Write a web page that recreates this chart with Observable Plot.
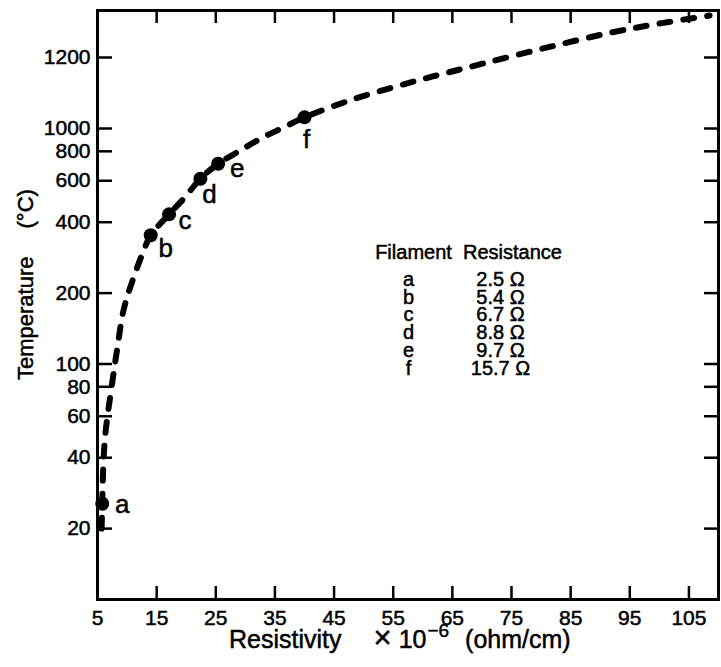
<!DOCTYPE html>
<html><head><meta charset="utf-8">
<script src="https://cdn.jsdelivr.net/npm/d3@7"></script>
<script src="https://cdn.jsdelivr.net/npm/@observablehq/plot@0.6"></script>
<style>
body{margin:0;background:#fff}
#chart svg{display:block}
#chart svg text{stroke:black;stroke-width:0.5px}
</style>
</head><body><div id="chart"></div>
<script>
// ---- data ----
const curveResistivity = [5.7, 5.8, 6.0, 6.35, 7.54, 8.38, 9.4, 10.92, 12.61, 14.0, 17.1, 19.8, 22.4, 25.4, 29.2, 32.6, 36.5, 40.0, 47.7, 56.1, 61.7, 70.1, 80.9, 92.0, 100.4, 108.5];
const curveTemperature = [20, 25.5, 38, 51, 85, 118, 169, 226, 294, 352, 432, 511, 612, 708, 808, 907, 1003, 1029, 1075, 1117, 1143, 1181, 1230, 1278, 1308, 1333];
const filaments = ["a", "b", "c", "d", "e", "f"];
const filamentResistivity = [5.8, 14.0, 17.1, 22.4, 25.4, 40.0];
const filamentTemperature = [25.5, 352, 432, 612, 708, 1029];
const filamentResistance = [2.5, 5.4, 6.7, 8.8, 9.7, 15.7];
const xTicks = [5, 15, 25, 35, 45, 55, 65, 75, 85, 95, 105];
const yTicks = [20, 40, 60, 80, 100, 200, 400, 600, 800, 1000, 1200];

// ---- layout ----
const W = 721, H = 667, mL = 97, mR = 3, mT = 10, mB = 68;
const fw = W - mL - mR, fh = H - mT - mB;
const font = "'Liberation Sans', Arial, Helvetica, sans-serif";

const curve = curveResistivity.map((x, i) => ({x, y: curveTemperature[i]}));
const points = filaments.map((f, i) => ({f, x: filamentResistivity[i], y: filamentTemperature[i]}));
const labelOffset = {a: [20, 1], b: [15, 13], c: [16, 6], d: [9, 16], e: [19, 5], f: [2, 22]};

const plot = Plot.plot({
  width: W, height: H,
  marginLeft: mL, marginRight: mR, marginTop: mT, marginBottom: mB,
  style: {fontFamily: font, background: "white", color: "black"},
  x: {domain: [5, 110], axis: null},
  y: {type: "log", domain: [10, 1000, 1200, 1350], range: [H - mB, 128, 57, mT], axis: null},
  marks: [
    Plot.tickX(xTicks, {x: d => d, insetTop: fh - 13, strokeWidth: 2.5}),
    Plot.tickX(xTicks, {x: d => d, insetBottom: fh - 13, strokeWidth: 2.5}),
    Plot.tickY(yTicks, {y: d => d, insetRight: fw - 15, strokeWidth: 2.5}),
    Plot.tickY(yTicks, {y: d => d, insetLeft: fw - 14, strokeWidth: 2.5}),
    Plot.frame({stroke: "black", strokeWidth: 3}),
    Plot.axisX(xTicks, {tickSize: 0, tickPadding: 11, fontSize: 21, label: null, tickFormat: d => String(d)}),
    Plot.axisY(yTicks, {tickSize: 0, tickPadding: 7, fontSize: 21, label: null, tickFormat: d => String(d)}),
    Plot.line(curve, {x: "x", y: "y", curve: "catmull-rom", stroke: "black", strokeWidth: 6,
      strokeDasharray: "11,13", strokeLinecap: "round"}),
    Plot.dot(points, {x: "x", y: "y", r: 7, fill: "black"}),
    ...points.map(p => Plot.text([p], {x: "x", y: "y", text: "f", fontSize: 26,
      dx: labelOffset[p.f][0], dy: labelOffset[p.f][1]})),
    // legend table
    Plot.text(["Filament"], {frameAnchor: "top-left", textAnchor: "middle", dx: 316, dy: 234, lineAnchor: "top", fontSize: 20}),
    Plot.text(["Resistance"], {frameAnchor: "top-left", textAnchor: "middle", dx: 415, dy: 234, lineAnchor: "top", fontSize: 20}),
    Plot.text([filaments.join("\n")], {frameAnchor: "top-left", textAnchor: "middle", dx: 311, dy: 263, lineAnchor: "top",
      lineHeight: 0.885, fontSize: 20}),
    Plot.text([filamentResistance.map(v => v.toFixed(1) + " Ω").join("\n")], {frameAnchor: "top-left", textAnchor: "middle",
      dx: 403, dy: 263, lineAnchor: "top", lineHeight: 0.885, fontSize: 20})
  ]
});

const svg = d3.select(plot);
// x-axis title with superscript
const xt = svg.append("text").attr("x", 229).attr("y", 648).attr("font-size", 25)
  .attr("text-anchor", "start").attr("font-family", font).attr("fill", "black");
xt.append("tspan").text("Resistivity");
xt.append("tspan").attr("dx", 32).attr("font-size", 31).text("×");
xt.append("tspan").attr("dx", 7).text("10");
xt.append("tspan").attr("dy", -11).attr("dx", 1).attr("font-size", 19).text("−6");
xt.append("tspan").attr("dy", 11).attr("dx", 16).text("(ohm/cm)");
// y-axis title
const yt = svg.append("text").attr("transform", "translate(33,380) rotate(-90)")
  .attr("text-anchor", "start").attr("font-size", 22).attr("font-family", font).attr("fill", "black");
yt.append("tspan").text("Temperature");
yt.append("tspan").attr("dx", 28).text("(°C)");

document.getElementById("chart").append(plot);
</script>
</body></html>
